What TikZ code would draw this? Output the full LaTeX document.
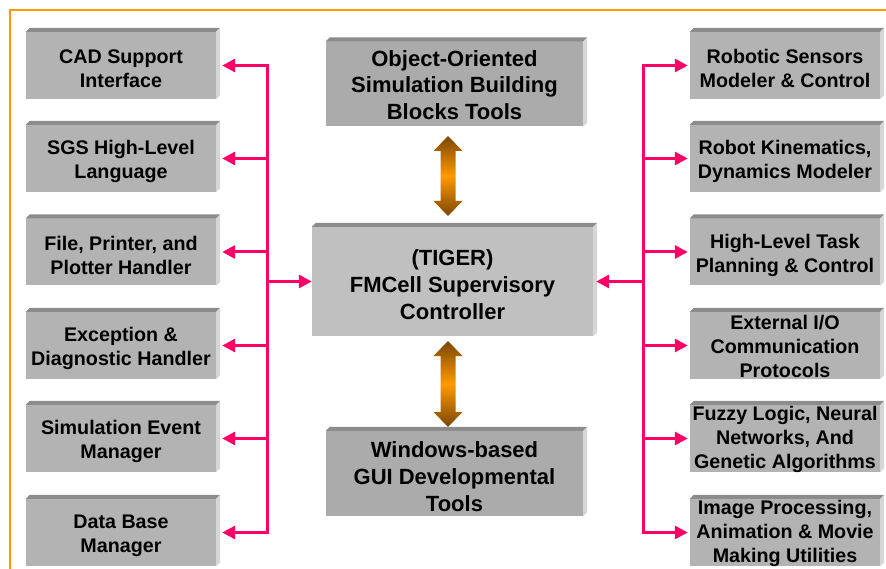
\documentclass[tikz,border=0pt]{standalone}
\usepackage{fontspec}
\setmainfont{Liberation Sans}
\usetikzlibrary{arrows.meta}
\definecolor{pinkln}{HTML}{FF0066}
\definecolor{bord}{HTML}{FF9900}
\definecolor{faceside}{HTML}{B3B3B3}
\definecolor{facemid}{HTML}{ABABAB}
\definecolor{facectr}{HTML}{C0C0C0}
\definecolor{bevtop}{HTML}{8C8C8C}
\definecolor{bevright}{HTML}{D6D6D6}
\definecolor{abrown}{HTML}{7A4600}
\definecolor{aorange}{HTML}{FF9900}
\tikzset{
 sidebox/.style={inner sep=0pt, fill=faceside, minimum width=190pt, minimum height=67pt},
 midbox/.style={inner sep=0pt, fill=facemid, minimum width=257pt, minimum height=85pt},
 ctrbox/.style={inner sep=0pt, fill=facectr, minimum width=281pt, minimum height=109pt},
 sidetext/.style={inner sep=0pt, align=center, font=\bfseries\fontsize{19.7}{24}\selectfont},
 bigtext/.style={inner sep=0pt, align=center, font=\bfseries\fontsize{22}{26.8}\selectfont},
 link/.style={draw=pinkln, line width=3pt, -{Triangle[length=13pt,width=13pt]}},
 bus/.style={draw=pinkln, line width=3pt, line cap=rect},
}
% #1 box style, #2 text style, #3 name, #4 position, #5 text shift (down, pt), #6 text
\newcommand\bx[6]{%
 \node[#1] (#3) at (#4) {};
 \node[#2] (#3t) at ([yshift=-#5pt]#3.center) {#6};}
\newcommand\dblarr[3]{%
 \shade[top color=abrown, bottom color=abrown, middle color=aorange]
 (#1,#2) -- ++(14.5,15) -- ++(-7,0) -- (#1+7.5,#3-15) -- ++(7,0) -- (#1,#3)
 -- ++(-14.5,-15) -- ++(7,0) -- (#1-7.5,#2+15) -- ++(-7,0) -- cycle;}
\begin{document}
\begin{tikzpicture}[x=1pt,y=-1pt]
\useasboundingbox (0,0) rectangle (886,569);
\fill[white] (0,0) rectangle (886,569);
\draw[bord, line width=2.2pt] (10,569) -- (10,10) -- (886,10);
% left boxes
\bx{sidebox}{sidetext}{l1}{121,65.5}{3.2}{CAD Support\\Interface}
\bx{sidebox}{sidetext}{l2}{121,158.5}{3.2}{SGS High-Level\\Language}
\bx{sidebox}{sidetext}{l3}{121,252}{3.2}{File, Printer, and\\Plotter Handler}
\bx{sidebox}{sidetext}{l4}{121,345.5}{3.2}{Exception \&\\Diagnostic Handler}
\bx{sidebox}{sidetext}{l5}{121,438.5}{3.2}{Simulation Event\\Manager}
\bx{sidebox}{sidetext}{l6}{121,532.5}{3.2}{Data Base\\Manager}
% right boxes
\bx{sidebox}{sidetext}{r1}{785,65.5}{3}{Robotic Sensors\\Modeler \& Control}
\bx{sidebox}{sidetext}{r2}{785,158.5}{3}{Robot Kinematics,\\Dynamics Modeler}
\bx{sidebox}{sidetext}{r3}{785,252}{3}{High-Level Task\\Planning \& Control}
\bx{sidebox}{sidetext}{r4}{785,345.5}{0.5}{External I/O\\Communication\\Protocols}
\bx{sidebox}{sidetext}{r5}{785,438.5}{0.5}{Fuzzy Logic, Neural\\Networks, And\\Genetic Algorithms}
\bx{sidebox}{sidetext}{r6}{785,532.5}{0.5}{Image Processing,\\Animation \& Movie\\Making Utilities}
% middle column
\bx{midbox}{bigtext}{top}{454.5,84}{1}{Object-Oriented\\Simulation Building\\Blocks Tools}
\bx{ctrbox}{bigtext}{ctr}{452.5,281.5}{3}{(TIGER)\\FMCell Supervisory\\Controller}
\bx{midbox}{bigtext}{bot}{454.5,473.5}{3}{Windows-based\\GUI Developmental\\Tools}
% bevels
\foreach \n in {l1,l2,l3,l4,l5,l6,r1,r2,r3,r4,r5,r6,top,ctr,bot} {
 \fill[bevtop] (\n.north west) -- ([shift={(4,-4)}]\n.north west) -- ([shift={(4,-4)}]\n.north east) -- (\n.north east) -- cycle;
 \fill[bevright] (\n.north east) -- ([shift={(4,-4)}]\n.north east) -- ([shift={(4,-4)}]\n.south east) -- (\n.south east) -- cycle;
}
% buses
\coordinate (lbus) at (267,0);
\coordinate (rbus) at (643,0);
\draw[bus] (l1.east -| lbus) -- (l6.east -| lbus);
\draw[bus] (r1.west -| rbus) -- (r6.west -| rbus);
\foreach \n in {l1,l2,l3,l4,l5,l6} \draw[link] (\n.east -| lbus) -- ([xshift=6pt]\n.east);
\foreach \n in {r1,r2,r3,r4,r5,r6} \draw[link] (\n.west -| rbus) -- ([xshift=-2pt]\n.west);
\draw[link] (lbus |- ctr.west) -- (ctr.west);
\draw[link] (rbus |- ctr.east) -- ([xshift=3pt]ctr.east);
% orange double arrows
\dblarr{448}{136}{216}
\dblarr{448}{341}{427}
\end{tikzpicture}
\end{document}
